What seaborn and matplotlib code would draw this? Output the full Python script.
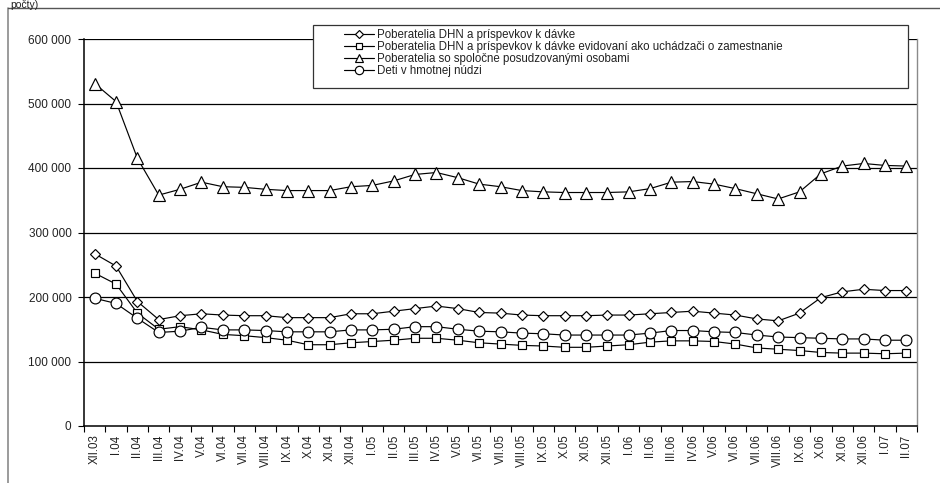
import numpy as np
import pandas as pd
import matplotlib
matplotlib.use("Agg")
import matplotlib.pyplot as plt
import seaborn as sns
from matplotlib.patches import Rectangle
from matplotlib.lines import Line2D
from matplotlib.ticker import FuncFormatter, FixedLocator

months = ["XII.03",
          "I.04", "II.04", "III.04", "IV.04", "V.04", "VI.04", "VII.04", "VIII.04",
          "IX.04", "X.04", "XI.04", "XII.04",
          "I.05", "II.05", "III.05", "IV.05", "V.05", "VI.05", "VII.05", "VIII.05",
          "IX.05", "X.05", "XI.05", "XII.05",
          "I.06", "II.06", "III.06", "IV.06", "V.06", "VI.06", "VII.06", "VIII.06",
          "IX.06", "X.06", "XI.06", "XII.06",
          "I.07", "II.07"]

dhn = [267000, 248000, 193000, 165000, 171000, 174000, 172000, 171000, 171000,
       168000, 168000, 168000, 174000,
       174000, 178000, 182000, 186000, 182000, 176000, 175000, 172000,
       171000, 171000, 171000, 172000,
       172000, 174000, 176000, 178000, 175000, 172000, 166000, 163000,
       175000, 199000, 208000, 212000, 210000, 210000]

dhn_uchadzaci = [237000, 220000, 175000, 150000, 154000, 149000, 142000, 140000, 137000,
                 133000, 126000, 126000, 129000,
                 131000, 133000, 136000, 136000, 133000, 129000, 127000, 125000,
                 124000, 122000, 122000, 124000,
                 126000, 130000, 132000, 132000, 131000, 127000, 121000, 119000,
                 117000, 114000, 113000, 113000, 112000, 113000]

spolocne = [531000, 503000, 415000, 358000, 367000, 378000, 371000, 370000, 367000,
            365000, 365000, 365000, 371000,
            373000, 380000, 390000, 393000, 385000, 375000, 371000, 365000,
            363000, 362000, 362000, 362000,
            363000, 368000, 378000, 379000, 375000, 368000, 360000, 352000,
            363000, 391000, 403000, 407000, 404000, 403000]

deti = [198000, 190000, 167000, 145000, 147000, 153000, 149000, 149000, 148000,
        146000, 146000, 146000, 149000,
        149000, 150000, 154000, 154000, 150000, 147000, 146000, 144000,
        143000, 141000, 141000, 141000,
        141000, 144000, 148000, 148000, 146000, 145000, 141000, 138000,
        137000, 136000, 135000, 135000, 133000, 133000]

series_labels = ["Poberatelia DHN a príspevkov k dávke",
                 "Poberatelia DHN a príspevkov k dávke evidovaní ako uchádzači o zamestnanie",
                 "Poberatelia so spoločne posudzovanými osobami",
                 "Deti v hmotnej núdzi"]

sns.set_theme(style="white")
plt.rcParams["font.family"] = ["Liberation Sans", "DejaVu Sans"]

W, H = 940, 483
fig = plt.figure(figsize=(W / 100, H / 100), dpi=100)
ax = fig.add_axes([84 / W, 1 - 426 / H, (917 - 84) / W, (426 - 39) / H])

pos = np.arange(len(months))
styles = [(dhn, "D", 5.6), (dhn_uchadzaci, "s", 6.0), (spolocne, "^", 8.0), (deti, "o", 7.8)]
for (vals, mk, ms), lab in zip(styles, series_labels):
    df = pd.DataFrame({"mesiac": pos, "pocet": vals})
    sns.lineplot(data=df, x="mesiac", y="pocet", ax=ax, color="black", lw=0.85,
                 marker=mk, markersize=ms, markerfacecolor="white",
                 markeredgecolor="black", markeredgewidth=0.85, label=lab,
                 zorder=3)

ax.set_xlim(-0.5, len(months) - 0.5)
ax.set_ylim(0, 600000)
ax.set_xlabel("")
ax.set_ylabel("")

ax.set_yticks(np.arange(0, 600001, 100000))
ax.yaxis.set_major_formatter(FuncFormatter(lambda v, p: f"{int(v):,}".replace(",", " ")))
ax.set_xticks(pos)
ax.set_xticklabels(months, rotation=90, va="top", ha="center")
ax.xaxis.set_minor_locator(FixedLocator(np.arange(-0.5, len(months), 1.0)))

ax.tick_params(axis="x", which="major", length=0, pad=6, labelsize=8.3, colors="black")
ax.tick_params(axis="x", which="minor", length=4, width=0.8, color="black", bottom=True)
ax.tick_params(axis="y", which="major", length=4, width=0.8, pad=5, labelsize=8.5,
               colors="black", left=True)
for t in ax.get_xticklabels() + ax.get_yticklabels():
    t.set_color("#222222")

for y in range(100000, 600001, 100000):
    ax.axhline(y, color="black", lw=0.9, zorder=1)

ax.spines["top"].set_visible(False)
ax.spines["left"].set_color("black")
ax.spines["left"].set_linewidth(1.1)
ax.spines["bottom"].set_color("black")
ax.spines["bottom"].set_linewidth(1.1)
ax.spines["right"].set_color("#8a8a8a")
ax.spines["right"].set_linewidth(1.0)

# outer chart frame
fig.add_artist(Line2D([8 / W, 8 / W], [0, 1 - 8 / H], transform=fig.transFigure,
                      color="#8a8a8a", lw=1.2))
fig.add_artist(Line2D([8 / W, 1], [1 - 8 / H, 1 - 8 / H], transform=fig.transFigure,
                      color="#555555", lw=1.0))
fig.text(10 / W, 1 - 7.5 / H, "počty)", fontsize=7.5, va="baseline", ha="left",
         color="#222222")

# legend box
box = Rectangle((313 / W, 1 - 88 / H), (908 - 313) / W, (88 - 25) / H,
                transform=fig.transFigure, facecolor="white", edgecolor="#333333",
                lw=0.9, zorder=4)
fig.add_artist(box)

handles, labels = ax.get_legend_handles_labels()
ax.get_legend().remove()
leg = fig.legend(handles, labels, loc="upper left",
                 bbox_to_anchor=(338 / W, 1 - 23.5 / H), frameon=False,
                 fontsize=8.3, labelspacing=0.0, handlelength=2.6,
                 handletextpad=0.3, borderpad=0, numpoints=1)
leg.set_zorder(5)
for h, sz in zip(leg.legend_handles, [4.4, 4.8, 6.0, 6.0]):
    h.set_markersize(sz)
for t in leg.get_texts():
    t.set_color("#222222")

fig.savefig("out.png", dpi=100)
